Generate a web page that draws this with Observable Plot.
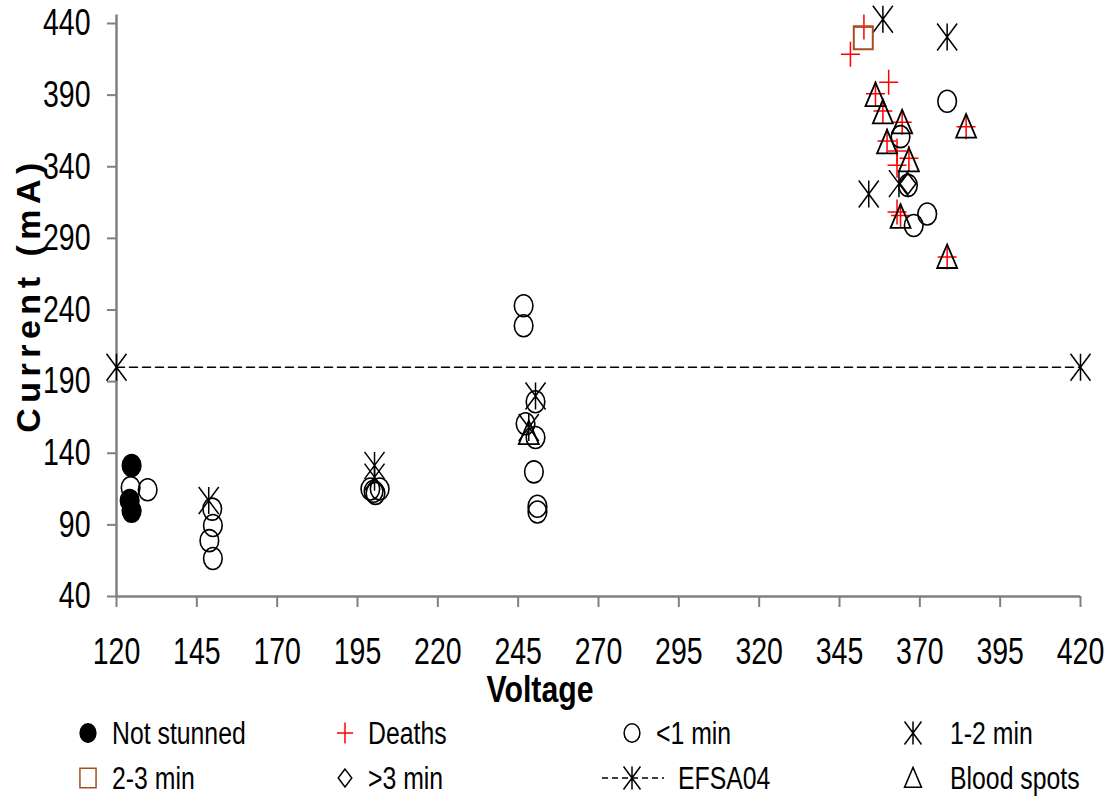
<!DOCTYPE html>
<html><head><meta charset="utf-8">
<script src="https://cdn.jsdelivr.net/npm/d3@7"></script>
<script src="https://cdn.jsdelivr.net/npm/@observablehq/plot@0.6"></script>
<style>
body{margin:0;background:#fff;}
#wrap{position:relative;width:1114px;height:798px;overflow:hidden;font-family:"Liberation Sans",Arial,sans-serif;color:#000;}
#wrap svg.plot{position:absolute;left:0;top:0;}
.ylab{position:absolute;left:28px;top:295px;transform:translate(-50%,-50%) rotate(-90deg);font-family:"Liberation Sans",Arial,sans-serif;font-weight:bold;font-size:34px;letter-spacing:5.5px;white-space:nowrap;}
.xlab{position:absolute;left:540px;top:690px;transform:translate(-50%,-50%) scaleX(0.84);font-weight:bold;font-size:36px;white-space:nowrap;}
.lg{position:absolute;font-size:31px;white-space:nowrap;transform:translateY(-50%) scaleX(0.8);transform-origin:0 50%;line-height:1;}
.lgm{position:absolute;transform:translate(-50%,-50%);}
</style></head><body><div id="wrap"></div>
<script>
// ---------- data ----------
const xTicks = [120,145,170,195,220,245,270,295,320,345,370,395,420];
const yTicks = [40,90,140,190,240,290,340,390,440];

const notStunnedV = [124.7,124.1,124.7];
const notStunnedI = [131.5,107,99.6];

const deathsV = [352.6,348.4,360.3,356.2,358.5,364.5,359.8,362.9,362.9,366.6,362.9,364,378.5,384.4];
const deathsI = [437.6,418.5,399,391,379,371,358,351,341,346,308.4,306,277,368];

const lt1V = [124.4,129.7,149.8,150,148.9,150,199,200,201.9,200.6,246.7,246.7,250.4,247.3,250.4,249.9,251,251,378.5,364,366.3,372.3,368.1];
const lt1I = [116,114.5,101,89.6,79,66.5,115,113.5,115,112,243,229,176,160.6,151,127,103,99,385.7,361,327,307,299];

const m12V = [358.5,378.5,354.1,363.5,148.7,200.3,200.3,250.4,248.3];
const m12I = [443,430.6,321,328.2,107,131.5,123.3,180,158];

const m23V = [352.4];
const m23I = [430];

const gt3V = [366.3];
const gt3I = [328.2];

const efsaV = [120,420];
const efsaI = [200,200];

const bloodV = [356.2,358.5,364.5,359.8,366.6,364,378.5,384.4,248.3];
const bloodI = [390,378,371,357,344.5,305,277,368,154];

const seriesNames = ["Not stunned","Deaths","<1 min","1-2 min","2-3 min",">3 min","EFSA04","Blood spots"];

// ---------- custom marker shapes (unit: r = 10) ----------
function ellipse(c, rx, ry){const k=0.5523;c.moveTo(rx,0);c.bezierCurveTo(rx,ry*k,rx*k,ry,0,ry);c.bezierCurveTo(-rx*k,ry,-rx,ry*k,-rx,0);c.bezierCurveTo(-rx,-ry*k,-rx*k,-ry,0,-ry);c.bezierCurveTo(rx*k,-ry,rx,-ry*k,rx,0);c.closePath();}
const sc = s => Math.sqrt(s/Math.PI)/10;
const symCircle = {draw(c,s){const f=sc(s);ellipse(c,9.3*f,11*f);}};
const symPlus = {draw(c,s){const f=sc(s);c.moveTo(-9.5*f,0);c.lineTo(9.5*f,0);c.moveTo(0,-12.5*f);c.lineTo(0,12.5*f);}};
const symAst = {draw(c,s){const f=sc(s);c.moveTo(0,-13.5*f);c.lineTo(0,13.5*f);c.moveTo(-10*f,-13.5*f);c.lineTo(10*f,13.5*f);c.moveTo(10*f,-13.5*f);c.lineTo(-10*f,13.5*f);}};
const symSquare = {draw(c,s){const f=sc(s);c.moveTo(-9.5*f,-11.5*f);c.lineTo(9.5*f,-11.5*f);c.lineTo(9.5*f,11.5*f);c.lineTo(-9.5*f,11.5*f);c.closePath();}};
const symDiamond = {draw(c,s){const f=sc(s);c.moveTo(0,-10.5*f);c.lineTo(8*f,0);c.lineTo(0,10.5*f);c.lineTo(-8*f,0);c.closePath();}};
const symTri = {draw(c,s){const f=sc(s);c.moveTo(0,-12.5*f);c.lineTo(10*f,11*f);c.lineTo(-10*f,11*f);c.closePath();}};

const zip = (V,I) => V.map((v,i)=>({v, c:I[i]}));
const black="#000", red="#ff0000", brown="#a5501e";

const dotOpts = (sym, stroke, fill="none", sw=1.6) => ({x:"v", y:"c", r:10, symbol:sym, stroke, fill, strokeWidth:sw});

const plot = Plot.plot({
  width:1114, height:710,
  marginLeft:116, marginRight:34, marginTop:23, marginBottom:114,
  x:{domain:[120,420]}, y:{domain:[40,440]},
  style:{fontFamily:'"Liberation Sans",Arial,sans-serif', background:"white", overflow:"visible"},
  marks:[
    Plot.axisX({ticks:xTicks, tickSize:11, tickPadding:30, fontSize:37, stroke:"#808080", strokeWidth:2, fill:"black", label:null, tickFormat:d=>String(d)}),
    Plot.axisY({ticks:yTicks, tickSize:9, tickPadding:17, fontSize:37, stroke:"#808080", strokeWidth:2, fill:"black", label:null, tickFormat:d=>String(d)}),
    Plot.ruleX([120], {y1:40, y2:446, stroke:"#808080", strokeWidth:2.5}),
    Plot.ruleY([40], {stroke:"#808080", strokeWidth:2.5}),
    Plot.line(zip(efsaV,efsaI), {x:"v", y:"c", stroke:black, strokeWidth:1.6, strokeDasharray:"8,5"}),
    Plot.dot(zip(notStunnedV,notStunnedI), dotOpts(symCircle, black, black)),
    Plot.dot(zip(deathsV,deathsI), dotOpts(symPlus, red, "none", 1.5)),
    Plot.dot(zip(lt1V,lt1I), dotOpts(symCircle, black)),
    Plot.dot(zip(m12V,m12I), dotOpts(symAst, black, "none", 1.5)),
    Plot.dot(zip(m23V,m23I), dotOpts(symSquare, brown, "none", 2)),
    Plot.dot(zip(gt3V,gt3I), dotOpts(symDiamond, black)),
    Plot.dot(zip(efsaV,efsaI), dotOpts(symAst, black, "none", 1.5)),
    Plot.dot(zip(bloodV,bloodI), dotOpts(symTri, black, "none", 1.8))
  ]
});
plot.classList.add("plot");
// narrow the tick labels (reference uses a condensed face); keep Plot's own x/y/dy offsets
plot.querySelectorAll('g[aria-label$="tick label"] text').forEach(t=>{
  const tr=t.getAttribute("transform")||"";
  t.setAttribute("transform", `${tr} scale(0.77,1)`);
});
const wrap = document.getElementById("wrap");
wrap.appendChild(plot);

const yl = document.createElement("div"); yl.className="ylab"; yl.textContent="Current (mA)"; wrap.appendChild(yl);
const xl = document.createElement("div"); xl.className="xlab"; xl.textContent="Voltage"; wrap.appendChild(xl);

// ---------- legend ----------
const legendSyms = [
  {sym:symCircle, stroke:black, fill:black},
  {sym:symPlus, stroke:red, fill:"none"},
  {sym:symCircle, stroke:black, fill:"none"},
  {sym:symAst, stroke:black, fill:"none"},
  {sym:symSquare, stroke:brown, fill:"none"},
  {sym:symDiamond, stroke:black, fill:"none"},
  {sym:symAst, stroke:black, fill:"none", line:true},
  {sym:symTri, stroke:black, fill:"none"}
];
const colMarker = [88,345,632,913];
const colText = [112,368,656,950];
const rowY = [733,778];
seriesNames.forEach((name,i)=>{
  const col = i%4, row = Math.floor(i/4);
  const L = legendSyms[i];
  const p = d3.path(); L.sym.draw(p, Math.PI*72);
  const w = L.line ? 64 : 30;
  const svg = d3.create("svg").attr("class","lgm").attr("width",w).attr("height",30)
    .attr("viewBox",`${-w/2} -15 ${w} 30`)
    .style("left",colMarker[col]+"px").style("top",rowY[row]+"px").style("overflow","visible");
  if (L.line) svg.append("line").attr("x1",-30).attr("x2",32).attr("y1",0).attr("y2",0).attr("stroke","#000").attr("stroke-width",1.4).attr("stroke-dasharray","6,4");
  svg.append("path").attr("d",p.toString()).attr("stroke",L.stroke).attr("fill",L.fill).attr("stroke-width",1.5);
  wrap.appendChild(svg.node());
  const t = document.createElement("div"); t.className="lg"; t.textContent=name;
  t.style.left = (L.line ? 678 : colText[col])+"px"; t.style.top = rowY[row]+"px";
  wrap.appendChild(t);
});
</script></body></html>
